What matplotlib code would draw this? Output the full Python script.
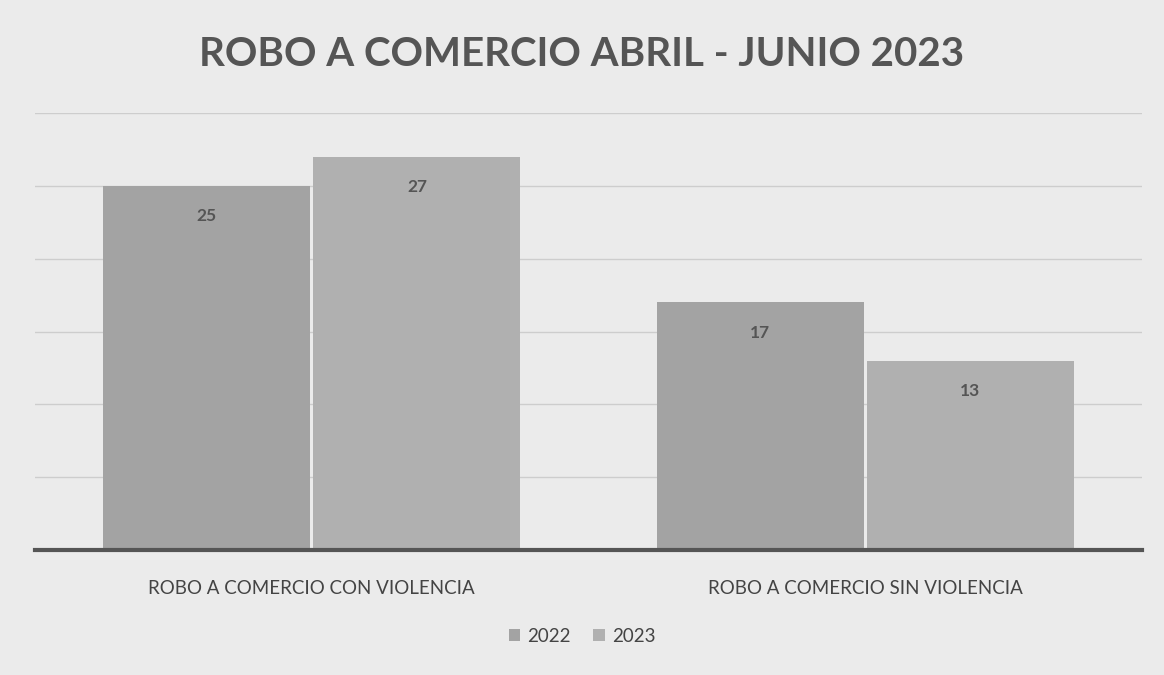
import matplotlib
matplotlib.use('Agg')
import matplotlib.pyplot as plt
import numpy as np

categories = ['ROBO A COMERCIO CON VIOLENCIA', 'ROBO A COMERCIO SIN VIOLENCIA']
years = ['2022', '2023']
values_2022 = [25, 17]
values_2023 = [27, 13]

colors = ['#a3a3a3', '#b0b0b0']
bg = '#ebebeb'

plt.rcParams['font.family'] = ['Lato', 'DejaVu Sans']

fig = plt.figure(figsize=(11.64, 6.75), dpi=100, facecolor=bg)
ax = fig.add_axes([35 / 1164, 1 - 550 / 675, 1107 / 1164, (550 - 113) / 675])
ax.set_facecolor(bg)

x = np.arange(len(categories))
w = 0.376
gap = 0.002
b1 = ax.bar(x - w / 2 - gap, values_2022, w - gap, color=colors[0], linewidth=0, label=years[0], zorder=2)
b2 = ax.bar(x + w / 2 + gap, values_2023, w - gap, color=colors[1], linewidth=0, label=years[1], zorder=2)

for bars in (b1, b2):
    for r in bars:
        ax.annotate(str(int(r.get_height())), (r.get_x() + r.get_width() / 2, r.get_height()),
                    xytext=(0, -22), textcoords='offset points', ha='center', va='center',
                    fontsize=12.5, fontweight='bold', color='#555555', zorder=3)

ax.set_xlim(-0.5, 1.5)
ax.set_ylim(0, 30)
ax.set_yticks(np.arange(0, 31, 5))
ax.yaxis.grid(True, color='#cdcdcd', linewidth=1, zorder=0)
ax.tick_params(axis='y', left=False, labelleft=False)
ax.tick_params(axis='x', bottom=False, labelsize=13.5, labelcolor='#444444', pad=18)
ax.set_xticks(x)
ax.set_xticklabels(categories)
for s in ['top', 'right', 'left']:
    ax.spines[s].set_visible(False)
ax.spines['bottom'].set_color('#555555')
ax.spines['bottom'].set_linewidth(3)
ax.spines['bottom'].set_zorder(4)

fig.text(0.5, 1 - 55 / 675, 'ROBO A COMERCIO ABRIL - JUNIO 2023', ha='center', va='center',
         fontsize=29, fontweight='bold', color='#555555')

fig.legend(handles=[b1, b2], labels=years, loc='center', bbox_to_anchor=(0.5, 1 - 636 / 675),
           ncol=2, frameon=False, fontsize=13.5, handlelength=0.6, handleheight=0.6,
           handletextpad=0.4, columnspacing=1.2, labelcolor='#444444')

fig.savefig('out.png', dpi=100, facecolor=bg)
